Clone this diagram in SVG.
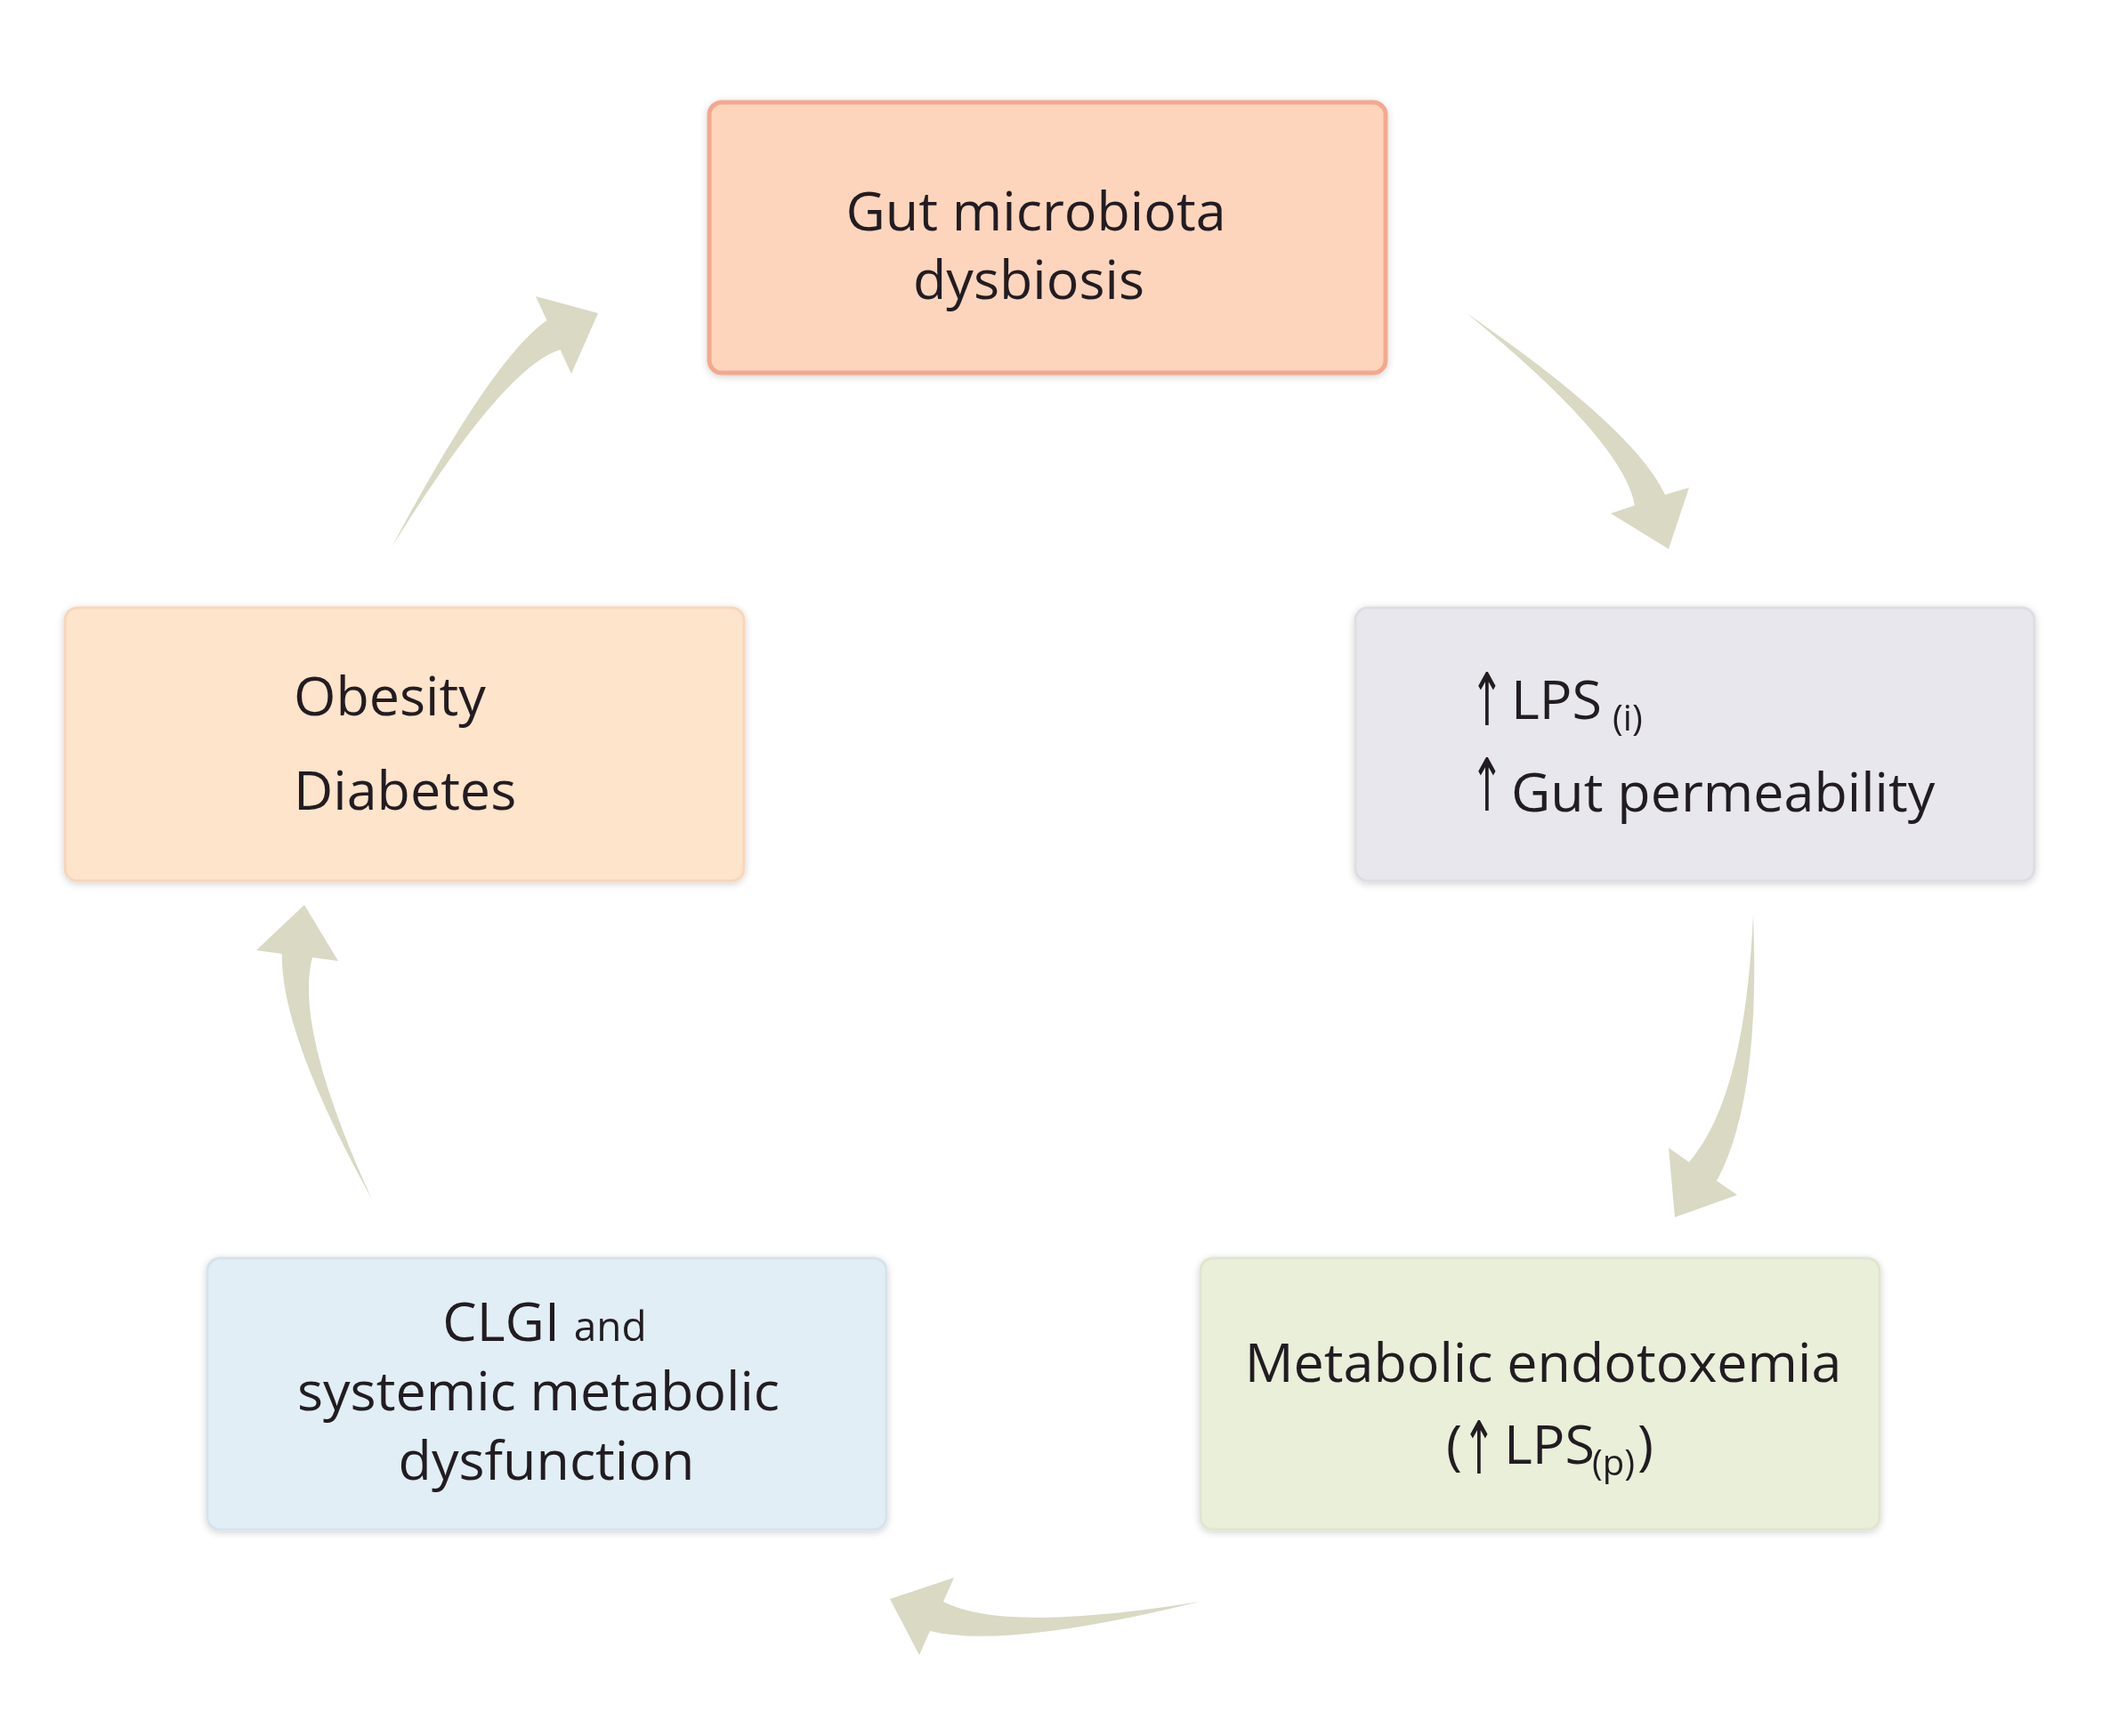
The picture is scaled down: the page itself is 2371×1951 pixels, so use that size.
<svg xmlns="http://www.w3.org/2000/svg" width="2371" height="1951" viewBox="0 0 2371 1951">
<style>
.t{font-family:"Open Sans","Noto Sans","Liberation Sans",sans-serif;font-size:61px;fill:#231f20}
.sm{font-size:40px}
.and{font-size:46px}
.arr{font-family:"DejaVu Sans",sans-serif;font-size:82px;fill:#231f20}
.conn path{fill:#d9d9c4}
</style>
<defs>
<filter id="sh" x="-5%" y="-5%" width="110%" height="110%">
<feGaussianBlur in="SourceAlpha" stdDeviation="4"/>
<feOffset dx="0" dy="2" result="b"/>
<feComponentTransfer><feFuncA type="linear" slope="0.18"/></feComponentTransfer>
<feMerge><feMergeNode/><feMergeNode in="SourceGraphic"/></feMerge>
</filter>
</defs>
<rect width="2371" height="1951" fill="#ffffff"/>
<g class="conn" id="connectors">
<path d="M1648,352 Q1836.4,481.7 1871,556 L1898,548 L1875,617 L1810,577 L1837,568 Q1823.6,494.8 1648,352 Z"/>
<path d="M1970,1028 Q1978.8,1236.1 1929,1327 L1952,1343 L1882,1368 L1875,1290 L1898,1306 Q1961.2,1232.7 1970,1028 Z"/>
<path d="M1348,1800 Q1128.2,1835.8 1060,1800 L1072,1773 L1000,1797 L1033,1860 L1045,1833 Q1129.2,1853.8 1348,1800 Z"/>
<path d="M418,1348 Q329.8,1155.6 351,1076 L380,1080 L342,1017 L288,1068 L317,1072 Q314.6,1160.2 418,1348 Z"/>
<path d="M440,615 Q553.8,401.9 614.5,360 L602,333 L672,352 L642,420 L629.5,393 Q566.6,411.7 440,615 Z"/>
</g>
<g id="node-gut" filter="url(#sh)">
<rect x="797" y="115" width="760" height="304" rx="14" fill="#fdd5bd" stroke="#f4a88e" stroke-width="5"/>
<text class="t" x="1164" y="259" text-anchor="middle">Gut microbiota</text>
<text class="t" x="1156" y="336" text-anchor="middle">dysbiosis</text>
</g>
<g id="node-lps" filter="url(#sh)">
<rect x="1523" y="683" width="763" height="307" rx="14" fill="#e7e7ed" stroke="#dddde3" stroke-width="3"/>
<text class="arr" text-anchor="middle" transform="translate(1671,815) scale(0.55,1)">↑</text>
<text class="t" x="1698" y="808">LPS<tspan class="sm" x="1812" y="821">(i)</tspan></text>
<text class="arr" text-anchor="middle" transform="translate(1671,911) scale(0.55,1)">↑</text>
<text class="t" x="1698" y="912">Gut permeability</text>
</g>
<g id="node-endotoxemia" filter="url(#sh)">
<rect x="1349" y="1414" width="763" height="305" rx="14" fill="#e9efd9" stroke="#dfe5cf" stroke-width="3"/>
<text class="t" x="1734" y="1553" text-anchor="middle">Metabolic endotoxemia</text>
<text class="t" x="1625" y="1645">(</text>
<text class="arr" text-anchor="middle" transform="translate(1662,1656) scale(0.55,1)">↑</text>
<text class="t" x="1690" y="1645">LPS<tspan class="sm" x="1789" y="1658">(p)</tspan><tspan x="1840" y="1645">)</tspan></text>
</g>
<g id="node-clgi" filter="url(#sh)">
<rect x="233" y="1414" width="763" height="305" rx="14" fill="#e1eef6" stroke="#d6e3eb" stroke-width="3"/>
<text class="t" x="612" y="1507" text-anchor="middle">CLGI <tspan class="and">and</tspan></text>
<text class="t" x="605" y="1585" text-anchor="middle">systemic metabolic</text>
<text class="t" x="614" y="1663" text-anchor="middle">dysfunction</text>
</g>
<g id="node-obesity" filter="url(#sh)">
<rect x="73" y="683" width="763" height="307" rx="14" fill="#fde4cb" stroke="#f8d6bb" stroke-width="3"/>
<text class="t" x="330" y="804">Obesity</text>
<text class="t" x="330" y="910">Diabetes</text>
</g>
</svg>
